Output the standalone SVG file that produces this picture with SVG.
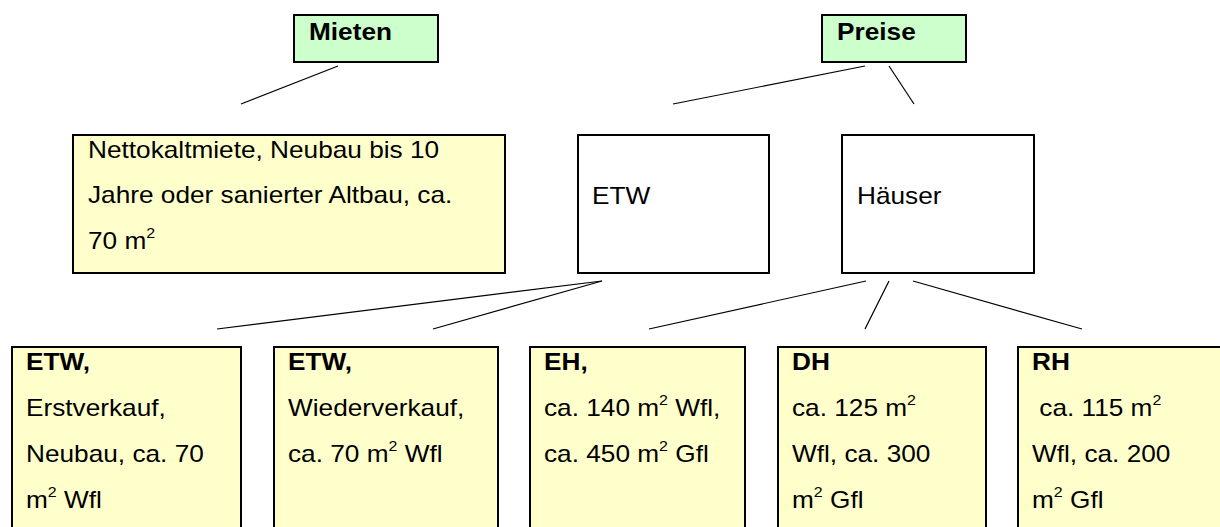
<svg xmlns="http://www.w3.org/2000/svg" width="1220" height="527" viewBox="0 0 1220 527">
<style>
  .box { stroke: #000; stroke-width: 2; }
  .green { fill: #CCFFCC; }
  .yellow { fill: #FFFFCC; }
  .white { fill: #FFFFFF; }
  .t { font-family: "Liberation Sans", Arial, sans-serif; font-size: 23px; fill: #000; }
  .b { font-weight: bold; }
  .sup { font-size: 14px; }
  .conn line { stroke: #000; stroke-width: 1.2; }
</style>
<rect width="1220" height="527" fill="#fff"/>
<g class="conn" id="connectors">
  <line x1="338" y1="66" x2="241" y2="104"/>
  <line x1="865" y1="66" x2="673" y2="104"/>
  <line x1="889" y1="66" x2="914" y2="104"/>
  <line x1="602" y1="281" x2="217" y2="329"/>
  <line x1="602" y1="281" x2="433" y2="329"/>
  <line x1="866" y1="281" x2="649" y2="329"/>
  <line x1="889" y1="281" x2="865" y2="329"/>
  <line x1="913" y1="281" x2="1082" y2="329"/>
</g>
<g id="mieten">
  <rect class="box green" x="294" y="15" width="144" height="47"/>
  <text class="t b" transform="translate(309,40) scale(1.14,1)">Mieten</text>
</g>
<g id="preise">
  <rect class="box green" x="822" y="15" width="144" height="47"/>
  <text class="t b" transform="translate(837,40) scale(1.14,1)">Preise</text>
</g>
<g id="nettokaltmiete">
  <rect class="box yellow" x="73" y="135" width="432" height="138"/>
  <text class="t" transform="translate(88,158) scale(1.14,1)">
    <tspan x="0" y="0">Nettokaltmiete, Neubau bis 10</tspan>
    <tspan x="0" y="45.5">Jahre oder sanierter Altbau, ca.</tspan>
    <tspan x="0" y="91">70 m</tspan><tspan class="sup" dy="-11">2</tspan>
  </text>
</g>
<g id="etw">
  <rect class="box white" x="578" y="135" width="191" height="138"/>
  <text class="t" transform="translate(592,204) scale(1.14,1)">ETW</text>
</g>
<g id="haeuser">
  <rect class="box white" x="842" y="135" width="192" height="138"/>
  <text class="t" transform="translate(857,204) scale(1.14,1)">Häuser</text>
</g>
<g id="etw-erstverkauf">
  <rect class="box yellow" x="12" y="347" width="229" height="200"/>
  <text class="t" transform="translate(26,370) scale(1.14,1)">
    <tspan x="0" y="0" class="b">ETW,</tspan>
    <tspan x="0" y="46.5">Erstverkauf,</tspan>
    <tspan x="0" y="92.5">Neubau, ca. 70</tspan>
    <tspan x="0" y="138.5">m</tspan><tspan class="sup" dy="-11">2</tspan><tspan dy="11"> Wfl</tspan>
  </text>
</g>
<g id="etw-wiederverkauf">
  <rect class="box yellow" x="274" y="347" width="224" height="200"/>
  <text class="t" transform="translate(288,370) scale(1.14,1)">
    <tspan x="0" y="0" class="b">ETW,</tspan>
    <tspan x="0" y="46.5">Wiederverkauf,</tspan>
    <tspan x="0" y="92.5">ca. 70 m</tspan><tspan class="sup" dy="-11">2</tspan><tspan dy="11"> Wfl</tspan>
  </text>
</g>
<g id="eh">
  <rect class="box yellow" x="530" y="347" width="215" height="200"/>
  <text class="t" transform="translate(544,370) scale(1.14,1)">
    <tspan x="0" y="0" class="b">EH,</tspan>
    <tspan x="0" y="46.5">ca. 140 m</tspan><tspan class="sup" dy="-11">2</tspan><tspan dy="11"> Wfl,</tspan>
    <tspan x="0" y="92.5">ca. 450 m</tspan><tspan class="sup" dy="-11">2</tspan><tspan dy="11"> Gfl</tspan>
  </text>
</g>
<g id="dh">
  <rect class="box yellow" x="778" y="347" width="208" height="200"/>
  <text class="t" transform="translate(792,370) scale(1.14,1)">
    <tspan x="0" y="0" class="b">DH</tspan>
    <tspan x="0" y="46.5">ca. 125 m</tspan><tspan class="sup" dy="-11">2</tspan>
    <tspan x="0" y="92.5">Wfl, ca. 300</tspan>
    <tspan x="0" y="138.5">m</tspan><tspan class="sup" dy="-11">2</tspan><tspan dy="11"> Gfl</tspan>
  </text>
</g>
<g id="rh">
  <rect class="box yellow" x="1018" y="347" width="220" height="200"/>
  <text class="t" transform="translate(1032,370) scale(1.14,1)" xml:space="preserve"><tspan x="0" y="0" class="b">RH</tspan><tspan x="0" y="46.5"> ca. 115 m</tspan><tspan class="sup" dy="-11">2</tspan><tspan x="0" y="92.5">Wfl, ca. 200</tspan><tspan x="0" y="138.5">m</tspan><tspan class="sup" dy="-11">2</tspan><tspan dy="11"> Gfl</tspan></text>
</g>
</svg>
